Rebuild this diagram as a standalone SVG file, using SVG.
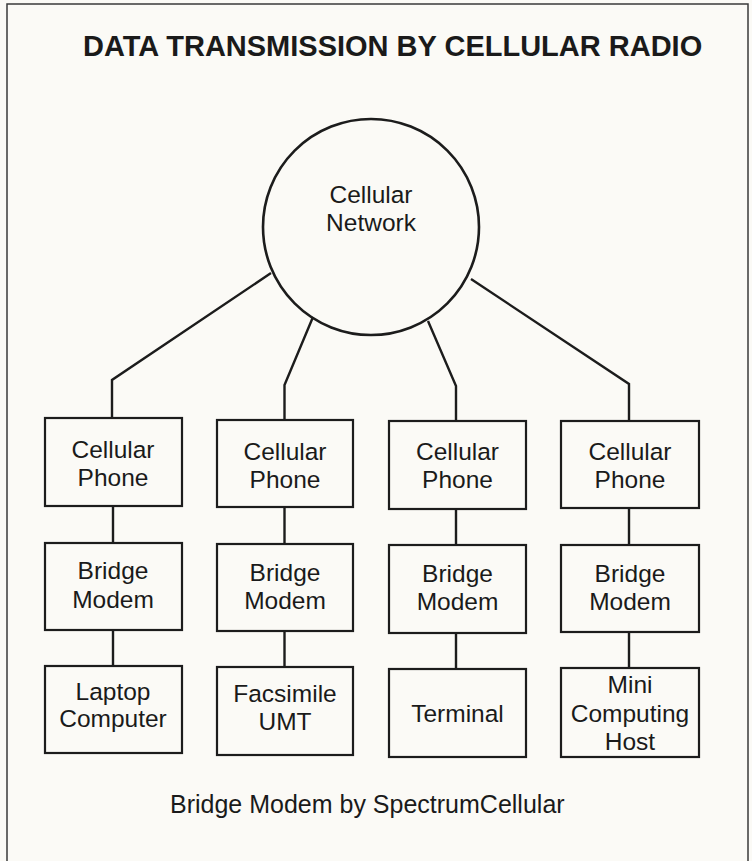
<svg xmlns="http://www.w3.org/2000/svg" width="752" height="861" viewBox="0 0 752 861">
  <style>
    .frame { fill: none; stroke: #3a3a3a; stroke-width: 1.5; }
    .box { fill: none; stroke: #1c1c1c; stroke-width: 2.2; }
    .hub { fill: none; stroke: #1c1c1c; stroke-width: 2.6; }
    .wire { fill: none; stroke: #1c1c1c; stroke-width: 2.4; stroke-linejoin: miter; }
    .label { font-family: "Liberation Sans", Arial, Helvetica, sans-serif; font-size: 24.5px; fill: #1a1a1a; text-anchor: middle; }
    .title { font-family: "Liberation Sans", Arial, Helvetica, sans-serif; font-size: 29px; font-weight: bold; fill: #1a1a1a; }
    .note { font-family: "Liberation Sans", Arial, Helvetica, sans-serif; font-size: 25px; fill: #1a1a1a; }
  </style>

  <!-- page -->
  <rect x="0" y="0" width="752" height="861" fill="#fbfaf6"/>
  <rect class="frame" x="7" y="4" width="741" height="870"/>

  <text class="title" x="83" y="56">DATA TRANSMISSION BY CELLULAR RADIO</text>

  <!-- connectors -->
  <g id="connectors">
    <polyline class="wire" points="271,273 112,380 112,418"/>
    <polyline class="wire" points="313,317 284.5,385 284.5,420"/>
    <polyline class="wire" points="428,321 456,386 456,421"/>
    <polyline class="wire" points="471,279 629,384 629,421"/>
    <line class="wire" x1="113" y1="506" x2="113" y2="543"/>
    <line class="wire" x1="113" y1="630" x2="113" y2="666"/>
    <line class="wire" x1="284.5" y1="507" x2="284.5" y2="544"/>
    <line class="wire" x1="284.5" y1="631" x2="284.5" y2="667"/>
    <line class="wire" x1="456" y1="509" x2="456" y2="545"/>
    <line class="wire" x1="456" y1="633" x2="456" y2="669"/>
    <line class="wire" x1="629" y1="508" x2="629" y2="545"/>
    <line class="wire" x1="629" y1="632" x2="629" y2="668"/>
  </g>

  <!-- hub -->
  <g id="cellular-network">
    <circle class="hub" cx="371" cy="227" r="108"/>
    <text class="label" x="371" y="203">Cellular</text>
    <text class="label" x="371" y="231">Network</text>
  </g>

  <!-- column 1 -->
  <g id="phone-1">
    <rect class="box" x="45" y="418" width="137" height="88"/>
    <text class="label" x="113" y="458">Cellular</text>
    <text class="label" x="113" y="486">Phone</text>
  </g>
  <g id="modem-1">
    <rect class="box" x="45" y="543" width="137" height="87"/>
    <text class="label" x="113" y="579">Bridge</text>
    <text class="label" x="113" y="608">Modem</text>
  </g>
  <g id="laptop">
    <rect class="box" x="45" y="666" width="137" height="87"/>
    <text class="label" x="113" y="700">Laptop</text>
    <text class="label" x="113" y="727">Computer</text>
  </g>

  <!-- column 2 -->
  <g id="phone-2">
    <rect class="box" x="217" y="420" width="136" height="87"/>
    <text class="label" x="285" y="459.5">Cellular</text>
    <text class="label" x="285" y="487.5">Phone</text>
  </g>
  <g id="modem-2">
    <rect class="box" x="217" y="544" width="136" height="87"/>
    <text class="label" x="285" y="581">Bridge</text>
    <text class="label" x="285" y="609">Modem</text>
  </g>
  <g id="facsimile">
    <rect class="box" x="217" y="667" width="136" height="88"/>
    <text class="label" x="285" y="701.5">Facsimile</text>
    <text class="label" x="285" y="729.5">UMT</text>
  </g>

  <!-- column 3 -->
  <g id="phone-3">
    <rect class="box" x="389" y="421" width="137" height="88"/>
    <text class="label" x="457.5" y="460">Cellular</text>
    <text class="label" x="457.5" y="488">Phone</text>
  </g>
  <g id="modem-3">
    <rect class="box" x="389" y="545" width="137" height="88"/>
    <text class="label" x="457.5" y="582">Bridge</text>
    <text class="label" x="457.5" y="610">Modem</text>
  </g>
  <g id="terminal">
    <rect class="box" x="389" y="669" width="137" height="88"/>
    <text class="label" x="457.5" y="722">Terminal</text>
  </g>

  <!-- column 4 -->
  <g id="phone-4">
    <rect class="box" x="561" y="421" width="138" height="87"/>
    <text class="label" x="630" y="460">Cellular</text>
    <text class="label" x="630" y="488">Phone</text>
  </g>
  <g id="modem-4">
    <rect class="box" x="561" y="545" width="138" height="87"/>
    <text class="label" x="630" y="582">Bridge</text>
    <text class="label" x="630" y="610">Modem</text>
  </g>
  <g id="mini-host">
    <rect class="box" x="561" y="668" width="138" height="89"/>
    <text class="label" x="630" y="693">Mini</text>
    <text class="label" x="630" y="721.5">Computing</text>
    <text class="label" x="630" y="750">Host</text>
  </g>

  <text class="note" x="170" y="813">Bridge Modem by SpectrumCellular</text>
</svg>
